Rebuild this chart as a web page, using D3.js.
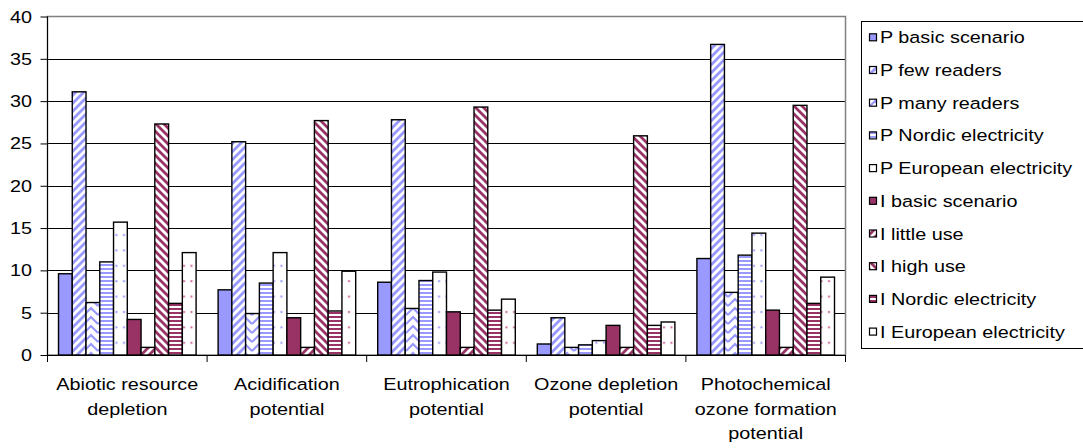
<!DOCTYPE html>
<html><head><meta charset="utf-8">
<script src="https://cdn.jsdelivr.net/npm/d3@7"></script>
<style>
body{margin:0;background:#fff}
text{font-family:"Liberation Sans",Arial,sans-serif;fill:#000}
</style></head>
<body><svg id="c" width="1083" height="448"></svg>
<script>
const categories = ["Abiotic resource\ndepletion","Acidification\npotential","Eutrophication\npotential","Ozone depletion\npotential","Photochemical\nozone formation\npotential"];
const seriesNames = ["P basic scenario","P few readers","P many readers","P Nordic electricity","P European electricity","I basic scenario","I little use","I high use","I Nordic electricity","I European electricity"];
const pBasic    = [9.6, 7.7, 8.6, 1.3, 11.4];
const pFew      = [31.1, 25.2, 27.8, 4.4, 36.7];
const pMany     = [6.2, 4.9, 5.5, 0.9, 7.4];
const pNordic   = [11.0, 8.5, 8.8, 1.2, 11.8];
const pEuropean = [15.7, 12.1, 9.8, 1.7, 14.4];
const iBasic    = [4.2, 4.4, 5.1, 3.5, 5.3];
const iLittle   = [0.9, 0.9, 0.9, 0.9, 0.9];
const iHigh     = [27.3, 27.7, 29.3, 25.9, 29.5];
const iNordic   = [6.1, 5.2, 5.3, 3.5, 6.1];
const iEuropean = [12.1, 9.9, 6.6, 3.9, 9.2];
const yTicks = [0,5,10,15,20,25,30,35,40];

const seriesValues = [pBasic,pFew,pMany,pNordic,pEuropean,iBasic,iLittle,iHigh,iNordic,iEuropean];
const P = "#9999FF", I = "#993366";
const fills = ["solid-p","up-p","zig-p","hor-p","dot-p","solid-i","up-i","down-i","hor-i","dot-i"];

const svg = d3.select("#c");
const defs = svg.append("defs");
function upDiag(id,c){const p=defs.append("pattern").attr("id",id).attr("patternUnits","userSpaceOnUse").attr("width",8).attr("height",8);
  p.append("rect").attr("width",8).attr("height",8).attr("fill","#fff");
  p.append("path").attr("d","M-2,2 L2,-2 M0,8 L8,0 M6,10 L10,6").attr("stroke",c).attr("stroke-width",2.8);}
function downDiag(id,c){const p=defs.append("pattern").attr("id",id).attr("patternUnits","userSpaceOnUse").attr("width",8).attr("height",8);
  p.append("rect").attr("width",8).attr("height",8).attr("fill","#fff");
  p.append("path").attr("d","M-2,6 L2,10 M0,0 L8,8 M6,-2 L10,2").attr("stroke",c).attr("stroke-width",2.8);}
function zig(id,c){const p=defs.append("pattern").attr("id",id).attr("patternUnits","userSpaceOnUse").attr("width",14).attr("height",9);
  p.append("rect").attr("width",14).attr("height",9).attr("fill","#fff");
  p.append("path").attr("d","M0,9 L7,2 L14,9 M0,0 L7,-7 L14,0 M0,18 L7,11 L14,18").attr("stroke",c).attr("stroke-width",2.2).attr("fill","none");}
function hor(id,c){const p=defs.append("pattern").attr("id",id).attr("patternUnits","userSpaceOnUse").attr("width",8).attr("height",4);
  p.append("rect").attr("width",8).attr("height",4).attr("fill","#fff");
  p.append("rect").attr("width",8).attr("height",2).attr("fill",c);}
function dot(id,c){const p=defs.append("pattern").attr("id",id).attr("patternUnits","userSpaceOnUse").attr("width",7.5).attr("height",15.4);
  p.append("rect").attr("width",7.5).attr("height",15.4).attr("fill","#fff");
  p.append("rect").attr("x",3).attr("y",3).attr("width",2).attr("height",2).attr("fill",c);}
function solid(id,c){const p=defs.append("pattern").attr("id",id).attr("patternUnits","userSpaceOnUse").attr("width",4).attr("height",4);
  p.append("rect").attr("width",4).attr("height",4).attr("fill",c);}
solid("solid-p",P); upDiag("up-p",P); zig("zig-p",P); hor("hor-p",P); dot("dot-p",P);
solid("solid-i",I); upDiag("up-i",I); downDiag("down-i",I); hor("hor-i",I); dot("dot-i","#CC6699");

const x0 = d3.scaleBand().domain(categories).range([47.5,845.5]).padding(0);
const x1 = d3.scaleBand().domain(seriesNames).range([0,x0.bandwidth()]).paddingInner(0).paddingOuter(0.8);
const y = d3.scaleLinear().domain([0,40]).range([355,16.5]);

const FS = 16.5, SX = 1.2;
function stretchText(g,x,yy,str,anchor){
  return g.append("text").attr("transform",`translate(${x},${yy}) scale(${SX},1)`)
    .attr("text-anchor",anchor||"start").attr("font-size",FS).text(str);
}

// gridlines
svg.append("g").selectAll("line").data(yTicks.filter(t=>t>0&&t<40)).join("line")
  .attr("x1",47.5).attr("x2",845.5).attr("y1",d=>Math.round(y(d))+0.5).attr("y2",d=>Math.round(y(d))+0.5)
  .attr("stroke","#000").attr("stroke-width",1);
// plot border (gray)
svg.append("rect").attr("x",47.5).attr("y",y(40)).attr("width",798).attr("height",y(0)-y(40))
  .attr("fill","none").attr("stroke","#808080").attr("stroke-width",1.5);

// bars
const gBars = svg.append("g");
categories.forEach((cat,ci)=>{
  seriesNames.forEach((s,si)=>{
    const v = seriesValues[si][ci];
    gBars.append("rect").attr("x",x0(cat)+x1(s)).attr("y",y(v)).attr("width",x1.bandwidth()).attr("height",y(0)-y(v))
      .attr("fill",`url(#${fills[si]})`).attr("stroke","#000").attr("stroke-width",1.4);
  });
});

// y axis
const yAxis = d3.axisLeft(y).tickValues(yTicks).tickSize(7).tickFormat("");
const ga = svg.append("g").attr("transform","translate(47.5,0)").call(yAxis);
ga.selectAll("line,path").attr("stroke","#000");
ga.select(".domain").attr("d","M0,16.5V355");
yTicks.forEach(t=>stretchText(svg,32,y(t)+6,String(t),"end"));

// x axis
svg.append("line").attr("x1",47.5).attr("x2",845.5).attr("y1",355.5).attr("y2",355.5).attr("stroke","#000").attr("stroke-width",1.2);
const bounds = categories.map(c=>x0(c)).concat([x0(categories[4])+x0.bandwidth()]);
svg.append("g").selectAll("line").data(bounds).join("line")
  .attr("x1",d=>d).attr("x2",d=>d).attr("y1",355).attr("y2",362).attr("stroke","#000");
categories.forEach(c=>{
  c.split("\n").forEach((line,li)=>{
    stretchText(svg,x0(c)+x0.bandwidth()/2,390+li*24.5,line,"middle");
  });
});

// legend
svg.append("rect").attr("x",861.5).attr("y",21.5).attr("width",260).attr("height",327).attr("fill","#fff").attr("stroke","#000");
seriesNames.forEach((s,i)=>{
  const cy = 37.3 + i*32.7;
  svg.append("rect").attr("x",869.5).attr("y",cy-3.5).attr("width",7).attr("height",7)
    .attr("fill",`url(#${fills[i]})`).attr("stroke","#000").attr("stroke-width",1.2);
  stretchText(svg,880,cy+6,s,"start");
});
</script>
</body></html>
